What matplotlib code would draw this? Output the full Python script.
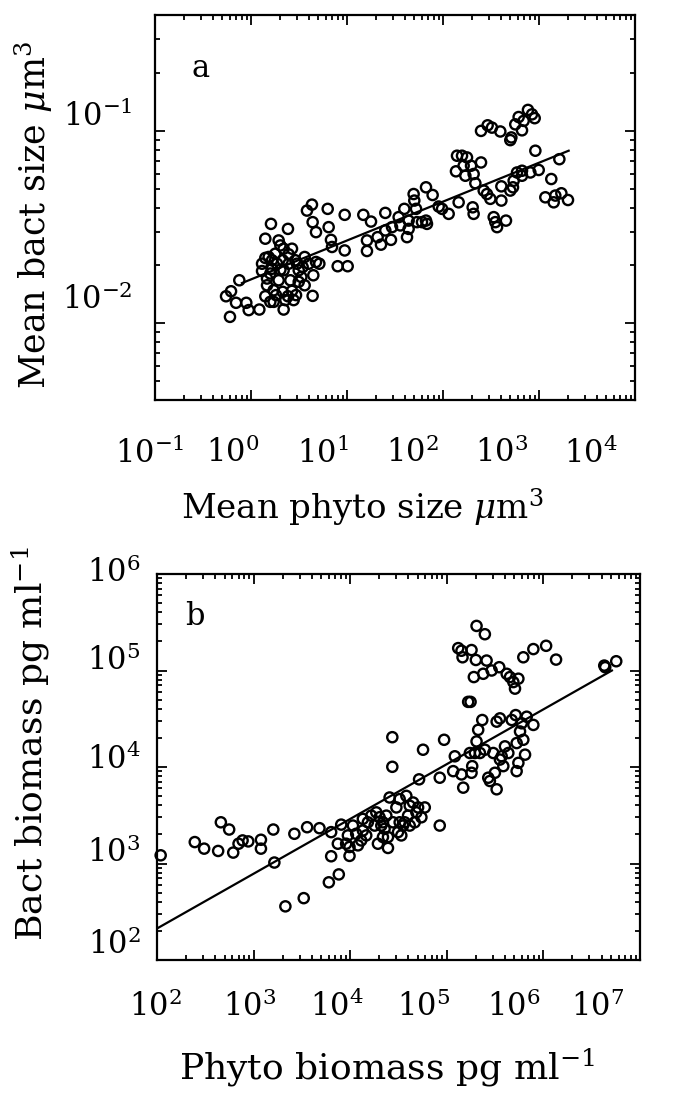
import numpy as np
import matplotlib
matplotlib.use("Agg")
import matplotlib.pyplot as plt
from matplotlib.transforms import ScaledTranslation
from matplotlib.ticker import LogLocator, NullFormatter, FixedLocator

plt.rcParams['font.family'] = 'DejaVu Serif'
plt.rcParams['mathtext.fontset'] = 'dejavuserif'

# ---------------- Panel a: log10 values ----------------
a_log_phyto_size = [
    -0.260, -0.208, -0.219, -0.156, -0.122, -0.049, -0.024, 0.087, 0.115, 0.149,
    0.208, 0.149, 0.184, 0.167, 0.167, 0.149, 0.201, 0.236, 0.260, 0.288,
    0.306, 0.271, 0.306, 0.288, 0.253, 0.340, 0.330, 0.330, 0.340, 0.385,
    0.392, 0.392, 0.410, 0.427, 0.444, 0.469, 0.479, 0.497, 0.497, 0.524,
    0.559, 0.559, 0.601, 0.642, 0.649, 0.677, 0.712, 0.219, 0.219, 0.201,
    0.340, 0.462, 0.583, 0.635, 0.642, 0.677, 0.799, 0.809, 0.833, 0.844,
    0.903, 1.007, 0.976, 0.976, 1.170, 1.208, 1.208, 1.250, 1.319, 1.354,
    1.399, 1.399, 1.458, 1.469, 1.538, 1.556, 1.597, 1.625, 1.642, 1.642,
    1.694, 1.701, 1.719, 1.729, 1.781, 1.823, 1.833, 1.823, 1.892, 1.955,
    1.990, 2.059, 2.163, 2.135, 2.146, 2.198, 2.250, 2.215, 2.292, 2.233,
    2.319, 2.337, 2.396, 2.309, 2.319, 2.396, 2.465, 2.510, 2.597, 2.701,
    2.712, 2.753, 2.788, 2.823, 2.840, 2.885, 2.955, 2.927, 2.962, 2.424,
    2.458, 2.493, 2.608, 2.608, 2.701, 2.729, 2.736, 2.771, 2.823, 2.823,
    2.910, 2.997, 3.212, 2.528, 2.545, 2.563, 2.656, 3.128, 3.066, 3.153,
    3.170, 3.233, 3.302, 0.115, 0.236, 0.358, 0.538, 0.427, 0.385,
]
a_log_bact_size = [
    -1.859, -1.833, -1.966, -1.893, -1.776, -1.893, -1.931, -1.928, -1.728, -1.560,
    -1.483, -1.660, -1.655, -1.767, -1.802, -1.859, -1.888, -1.888, -1.853, -1.569,
    -1.595, -1.690, -1.721, -1.776, -1.638, -1.612, -1.672, -1.836, -1.928, -1.509,
    -1.641, -1.690, -1.776, -1.831, -1.879, -1.853, -1.690, -1.724, -1.784, -1.759,
    -1.802, -1.655, -1.690, -1.857, -1.750, -1.681, -1.690, -1.672, -1.716, -1.741,
    -1.724, -1.672, -1.414, -1.383, -1.474, -1.526, -1.405, -1.500, -1.566, -1.603,
    -1.703, -1.703, -1.436, -1.621, -1.436, -1.569, -1.624, -1.471, -1.552, -1.591,
    -1.426, -1.517, -1.566, -1.500, -1.448, -1.491, -1.405, -1.552, -1.509, -1.466,
    -1.328, -1.362, -1.405, -1.474, -1.474, -1.466, -1.483, -1.293, -1.333, -1.393,
    -1.405, -1.431, -1.371, -1.210, -1.129, -1.129, -1.138, -1.181, -1.181, -1.233,
    -1.224, -1.272, -1.164, -1.397, -1.431, -1.000, -0.971, -0.983, -1.003, -1.048,
    -1.034, -0.966, -0.928, -0.997, -0.948, -0.891, -0.934, -0.914, -1.103, -1.310,
    -1.328, -1.353, -1.288, -1.362, -1.310, -1.293, -1.259, -1.216, -1.233, -1.207,
    -1.216, -1.203, -1.147, -1.448, -1.474, -1.500, -1.466, -1.250, -1.345, -1.371,
    -1.336, -1.324, -1.359, -1.690, -1.828, -1.879, -1.707, -1.612, -1.859,
]
a_fit_phyto_size = [0.805, 2037.0]
a_fit_bact_size = [0.0162, 0.0789]
a_xticks = [1e-1, 1e0, 1e1, 1e2, 1e3, 1e4]
a_xtick_labels = [r'$10^{-1}$', r'$10^{0}$', r'$10^{1}$', r'$10^{2}$', r'$10^{3}$', r'$10^{4}$']
a_yticks = [1e-2, 1e-1]
a_ytick_labels = [r'$10^{-2}$', r'$10^{-1}$']

# ---------------- Panel b: log10 values ----------------
b_log_phyto_biomass = [
    2.038, 2.391, 2.488, 2.633, 2.661, 2.747, 2.789, 2.844, 2.886, 2.945,
    3.076, 3.076, 3.204, 3.215, 3.329, 3.422, 3.519, 3.554, 3.682, 3.779,
    3.803, 3.803, 3.872, 3.882, 3.907, 3.976, 3.993, 3.993, 4.028, 4.062,
    4.114, 4.131, 4.183, 4.218, 4.253, 4.287, 4.304, 4.339, 4.356, 4.391,
    4.391, 4.408, 4.436, 4.436, 4.478, 4.512, 4.529, 4.581, 4.599, 4.616,
    4.651, 4.685, 4.713, 4.737, 4.754, 4.772, 4.927, 4.927, 4.972, 5.066,
    5.083, 5.118, 5.152, 5.163, 5.152, 5.170, 5.221, 5.246, 5.239, 5.256,
    5.256, 5.263, 5.280, 5.308, 5.301, 5.308, 5.325, 5.343, 5.367, 5.377,
    5.394, 5.394, 5.412, 5.429, 5.446, 5.464, 5.481, 5.498, 5.516, 5.516,
    5.543, 5.550, 5.568, 5.585, 5.620, 5.637, 5.654, 5.672, 5.689, 5.706,
    5.713, 5.723, 5.723, 5.741, 5.741, 5.758, 5.775, 5.792, 5.810, 5.827,
    5.896, 5.896, 6.028, 6.131, 6.630, 6.640, 6.754, 3.958, 4.080, 4.166,
    4.270, 4.322, 4.374, 4.443, 4.495, 4.564, 4.616, 4.668, 4.703, 4.512,
    4.547, 4.131, 4.339, 5.602, 5.792, 5.291, 5.550,
]
b_log_bact_biomass = [
    3.085, 3.222, 3.154, 3.130, 3.427, 3.352, 3.113, 3.205, 3.239, 3.229,
    3.246, 3.154, 3.352, 3.010, 2.556, 3.308, 2.641, 3.376, 3.366, 2.805,
    3.325, 3.075, 3.205, 2.887, 3.403, 3.291, 3.171, 3.079, 3.393, 3.308,
    3.239, 3.462, 3.427, 3.496, 3.393, 3.205, 3.479, 3.427, 3.359, 3.161,
    3.274, 3.684, 4.309, 4.002, 3.581, 3.427, 3.291, 3.701, 3.496, 3.393,
    3.632, 3.530, 3.872, 3.479, 4.179, 3.581, 3.889, 3.393, 4.282, 3.957,
    4.111, 5.232, 5.205, 5.137, 3.923, 3.786, 4.675, 4.675, 4.145, 5.212,
    3.940, 4.009, 4.932, 5.462, 5.109, 4.265, 4.385, 4.145, 4.487, 4.966,
    5.376, 4.179, 5.103, 3.889, 3.855, 5.000, 4.145, 3.940, 3.769, 4.470,
    5.034, 4.504, 4.111, 4.009, 4.966, 4.145, 4.932, 4.487, 4.880, 4.812,
    4.538, 3.957, 4.248, 4.043, 4.915, 4.368, 4.453, 5.137, 4.128, 4.521,
    5.222, 4.436, 5.256, 5.113, 5.051, 5.034, 5.096, 3.205, 3.188, 3.291,
    3.530, 3.393, 3.496, 3.427, 3.325, 3.427, 3.598, 3.427, 3.581, 3.667,
    3.393, 3.342, 3.274, 4.214, 4.282, 4.145, 4.077,
]
b_fit_phyto_biomass = [100.0, 5.12e6]
b_fit_bact_biomass = [212.0, 1.0e5]
b_xticks = [1e2, 1e3, 1e4, 1e5, 1e6, 1e7]
b_xtick_labels = [r'$10^{2}$', r'$10^{3}$', r'$10^{4}$', r'$10^{5}$', r'$10^{6}$', r'$10^{7}$']
b_yticks = [1e2, 1e3, 1e4, 1e5, 1e6]
b_ytick_labels = [r'$10^{2}$', r'$10^{3}$', r'$10^{4}$', r'$10^{5}$', r'$10^{6}$']

FS = 22
fig = plt.figure(figsize=(6.9, 11.0), dpi=100)


def shift(txt, dx_px, dy_px):
    txt.set_transform(txt.get_transform() +
                      ScaledTranslation(dx_px / 100.0, -dy_px / 100.0, fig.dpi_scale_trans))


def style_axes(ax, xlim, ylim, xticks, xlabels, yticks, ylabels, xpad, ypad):
    ax.set_xscale('log')
    ax.set_yscale('log')
    ax.set_xlim(*xlim)
    ax.set_ylim(*ylim)
    ax.xaxis.set_major_locator(FixedLocator(xticks))
    ax.yaxis.set_major_locator(FixedLocator(yticks))
    ax.xaxis.set_minor_locator(LogLocator(base=10, subs=np.arange(2, 10), numticks=50))
    ax.yaxis.set_minor_locator(LogLocator(base=10, subs=np.arange(2, 10), numticks=50))
    ax.xaxis.set_minor_formatter(NullFormatter())
    ax.yaxis.set_minor_formatter(NullFormatter())
    ax.set_xticklabels(xlabels)
    ax.set_yticklabels(ylabels)
    for s in ax.spines.values():
        s.set_linewidth(1.6)
    ax.tick_params(which='both', direction='in', top=True, right=True, width=1.3,
                   labelsize=FS)
    ax.tick_params(which='major', length=7.5)
    ax.tick_params(which='minor', length=3.8)
    ax.tick_params(axis='x', which='major', pad=xpad)
    ax.tick_params(axis='y', which='major', pad=ypad)


# ---------------- Panel a ----------------
axa = fig.add_axes([155 / 690, 1 - 400 / 1100, 480 / 690, 385 / 1100])
style_axes(axa, (1e-1, 1e4), (0.004, 0.4), a_xticks, a_xtick_labels,
           a_yticks, a_ytick_labels, xpad=27, ypad=16)
axa.scatter(10 ** np.array(a_log_phyto_size), 10 ** np.array(a_log_bact_size),
            s=54, facecolors='none', edgecolors='black', linewidths=1.7, zorder=3)
axa.plot(a_fit_phyto_size, a_fit_bact_size, color='black', lw=1.6, zorder=2)
axa.text(0.077, 0.839, 'a', transform=axa.transAxes, fontsize=FS)
axa.set_xlabel(r'Mean phyto size $\mu$m$^3$', fontsize=24.5)
axa.set_ylabel(r'Mean bact size $\mu$m$^3$', fontsize=25)
axa.xaxis.set_label_coords(0.433, -0.226)
axa.yaxis.set_label_coords(-0.208, 0.48)

# ---------------- Panel b ----------------
axb = fig.add_axes([157 / 690, 1 - 960 / 1100, 483 / 690, 386 / 1100])
style_axes(axb, (1e2, 1e7), (1e2, 1e6), b_xticks, b_xtick_labels,
           b_yticks, b_ytick_labels, xpad=22, ypad=12)
axb.scatter(10 ** np.array(b_log_phyto_biomass), 10 ** np.array(b_log_bact_biomass),
            s=54, facecolors='none', edgecolors='black', linewidths=1.7, zorder=3,
            clip_on=False)
axb.plot(b_fit_phyto_biomass, b_fit_bact_biomass, color='black', lw=1.6, zorder=2)
axb.text(0.058, 0.868, 'b', transform=axb.transAxes, fontsize=FS)
axb.set_xlabel(r'Phyto biomass pg ml$^{-1}$', fontsize=26)
axb.set_ylabel(r'Bact biomass pg ml$^{-1}$', fontsize=26)
axb.xaxis.set_label_coords(0.476, -0.225)
axb.yaxis.set_label_coords(-0.217, 0.56)

# tick-label offsets as in the original (labels not exactly centred on ticks)
for t, dx in zip(axa.get_xticklabels(), [-5, -18, -24, -31, -37, -44]):
    shift(t, dx, 0)
for t, dy in zip(axa.get_yticklabels(), [-27, -18]):
    shift(t, 0, dy)
for t, dx in zip(axb.get_xticklabels(), [-2, -4, -13, -23, -30, -42]):
    shift(t, dx, 0)
for t, dy in zip(axb.get_yticklabels(), [-19, -14, -11, -13, -4]):
    shift(t, 0, dy)

fig.savefig('out.png', dpi=100)
